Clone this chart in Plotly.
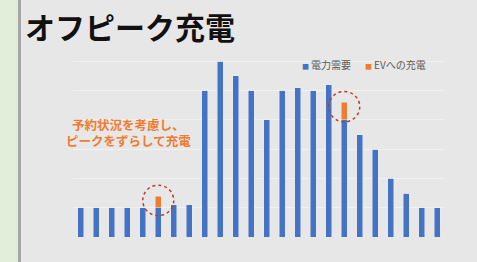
import plotly.graph_objects as go

hours = list(range(24))
demand = [10, 10, 10, 10, 10, 10, 11, 11, 50, 60, 55, 50, 40, 50, 51, 50, 52, 40, 35, 30, 20, 15, 10, 10]
ev_charge = [0, 0, 0, 0, 0, 4, 0, 0, 0, 0, 0, 0, 0, 0, 0, 0, 0, 6, 0, 0, 0, 0, 0, 0]
series_names = ["電力需要", "EVへの充電"]
title_text = "オフピーク充電"
note_text = "予約状況を考慮し、<br>ピークをずらして充電"

BLUE = "#4472c4"
ORANGE = "#ed7d31"
FONT = "Noto Sans CJK JP"

fig = go.Figure()
fig.add_trace(go.Bar(x=hours, y=demand, name=series_names[0], marker_color=BLUE, showlegend=False))
fig.add_trace(go.Bar(x=hours, y=ev_charge, name=series_names[1], marker_color=ORANGE, showlegend=False))

shapes = []
plot_l, plot_w = 73, 372
plot_b, plot_h = 237, 205
def px2paper(px):
    return (px - plot_l) / plot_w
def py2paper(py):
    return (plot_b - py) / plot_h

shapes.append(dict(type="rect", xref="paper", yref="paper", x0=px2paper(0), x1=px2paper(18),
                   y0=-1, y1=2, fillcolor="#e2eed9", line_width=0, layer="below"))
shapes.append(dict(type="rect", xref="paper", yref="paper", x0=px2paper(18), x1=px2paper(21),
                   y0=-1, y1=2, fillcolor="#a6a6a6", line_width=0, layer="below"))
for h, d, e in zip(hours, demand, ev_charge):
    if e > 0:
        cy = d + e - 1.5
        shapes.append(dict(type="circle", xref="x", yref="y",
                           x0=h - 1.0, x1=h + 1.0, y0=cy - 5.2, y1=cy + 5.2,
                           line=dict(color="#c0392b", width=1.5, dash="dot")))

annotations = [
    dict(text="<b>" + note_text + "</b>", xref="paper", yref="paper",
         x=px2paper(128), xanchor="center", y=py2paper(132), yanchor="middle", showarrow=False,
         font=dict(size=12.5, color=ORANGE, family=FONT), align="center"),
]
for name, color, px in zip(series_names, [BLUE, ORANGE], [300, 363]):
    annotations.append(dict(
        text="<span style='color:%s;font-size:7px'>■</span>\u2009%s" % (color, name),
        xref="paper", yref="paper", x=px2paper(px), xanchor="left",
        y=py2paper(64), yanchor="middle", showarrow=False,
        font=dict(size=10, color="#595959", family=FONT)))

fig.update_layout(
    width=477, height=262,
    margin=dict(l=73, r=32, t=32, b=25),
    paper_bgcolor="#e7e7e7", plot_bgcolor="#e7e7e7",
    barmode="stack", bargap=0.64,
    font=dict(family=FONT),
    title=dict(text="<b>" + title_text + "</b>", x=25 / 477, xanchor="left",
               y=1 - 28 / 262, yanchor="middle",
               font=dict(size=30, color="#111111", family=FONT)),
    showlegend=False,
    xaxis=dict(range=[-0.5, 23.5], showticklabels=False, showgrid=False, zeroline=False, ticks=""),
    yaxis=dict(range=[0, 70], dtick=10, showticklabels=False, gridcolor="#f1f1f1", gridwidth=1,
               zeroline=False, ticks=""),
    shapes=shapes,
    annotations=annotations,
)

fig.write_html("out.html", config={"displayModeBar": False},
               post_script="document.body.style.margin='0';document.body.style.overflow='hidden';")
